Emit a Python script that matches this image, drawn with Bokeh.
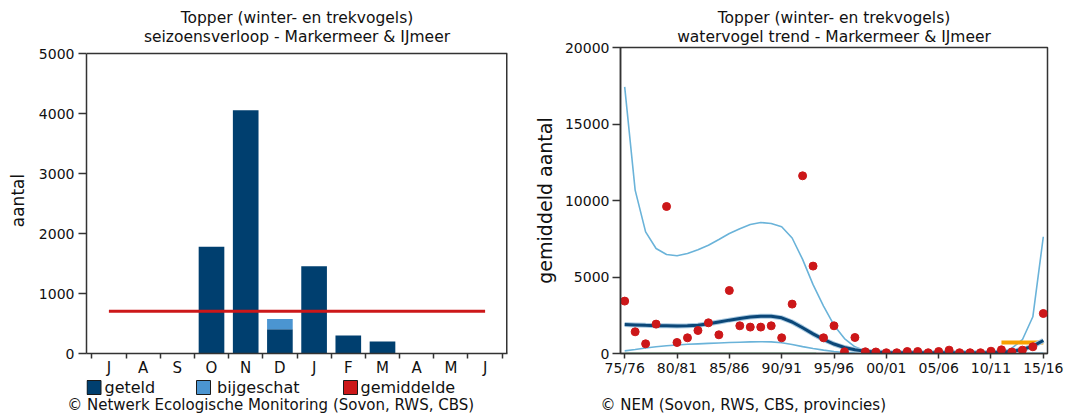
from bokeh.plotting import figure, gridplot
from bokeh.models import FixedTicker, Title, Range1d, ColumnDataSource
from bokeh.core.properties import value
from bokeh.embed import file_html
from bokeh.resources import INLINE

# ---------------- data: seizoensverloop ----------------
months = ["J", "A", "S", "O", "N", "D", "J", "F", "M", "A", "M", "J"]
geteld = [0, 0, 0, 1780, 4055, 405, 1455, 300, 200, 0, 0, 0]
bijgeschat = [0, 0, 0, 0, 0, 172, 0, 0, 0, 0, 0, 0]
gemiddelde = 705
legend_labels = ["geteld", "bijgeschat", "gemiddelde"]

# ---------------- data: watervogel trend ----------------
seasons = list(range(1975, 2016))
season_ticks = [1975, 1980, 1985, 1990, 1995, 2000, 2005, 2010, 2015]
season_labels = ["75/76", "80/81", "85/86", "90/91", "95/96", "00/01", "05/06", "10/11", "15/16"]
counts = [3425, 1418, 634, 1920, 9608, 719, 1026, 1503, 2006, 1222,
          4118, 1810, 1725, 1725, 1810, 1026, 3229, 11614, 5712, 1026,
          1810, 111, 1046, 111, 100, 50, 50, 130, 130, 50,
          130, 220, 50, 50, 50, 150, 240, 100, 220, 440, 2614]
trend = [1900, 1870, 1840, 1820, 1810, 1800, 1810, 1850, 1940, 2060,
         2180, 2290, 2380, 2440, 2440, 2330, 2060, 1680, 1280, 920,
         620, 390, 240, 150, 100, 70, 55, 50, 50, 50,
         50, 50, 50, 50, 55, 65, 90, 140, 260, 480, 850]
upper = [17430, 10680, 7950, 6860, 6470, 6390, 6540, 6780, 7080, 7450,
         7840, 8150, 8430, 8560, 8500, 8280, 7550, 6150, 4500, 3100,
         1850, 980, 440, 160, 70, 40, 40, 40, 40, 40,
         40, 40, 40, 40, 40, 40, 100, 350, 900, 2400, 7630]
lower = [170, 260, 360, 440, 510, 560, 600, 630, 660, 690,
         720, 740, 760, 770, 760, 700, 590, 450, 330, 220,
         130, 70, 30, 15, 10, 10, 10, 10, 10, 10,
         10, 10, 10, 10, 10, 10, 10, 10, 10, 15, 20]
base_years = [1975, 1993.3]
base_values = [0, 0]
index_years = [2011, 2015]
index_values = [720, 720]

FONT = "DejaVu Sans"
TXT = "#111111"
AX = "#333333"
NAVY = "#003f6f"
LBLUE = "#4b95d1"
RED = "#cc1719"
BAND = "#6ab3d9"
TREND = "#0b4778"
HALO = "#a9c9e0"
GREEN = "#2e9a4e"
ORANGE = "#f7a000"
legend_colors = [NAVY, LBLUE, RED]

# layout geometry (pixels)
TOP, FRAME_H, AXIS_B = 46, 306, 23
FOOT_FRAME, FOOT_B = 25, 15
L1, FW1, R1 = 86, 421, 20
L2, FW2, R2 = 93, 427, 20


def style_axes(p):
    p.grid.visible = False
    p.outline_line_color = AX
    p.outline_line_width = 1.5
    for ax in (p.xaxis[0], p.yaxis[0]):
        ax.axis_line_color = AX
        ax.axis_line_width = 1.5
        ax.major_tick_line_color = AX
        ax.major_tick_line_width = 1.5
        ax.major_tick_in = 0
        ax.minor_tick_line_color = None
        ax.major_label_text_font = FONT
        ax.major_label_text_color = TXT
        ax.axis_label_text_font = FONT
        ax.axis_label_text_font_style = "normal"
        ax.axis_label_text_color = TXT
    p.background_fill_color = "white"
    p.border_fill_color = "white"


def add_titles(p, line1, line2):
    p.add_layout(Title(text=line2, align="center", vertical_align="bottom", standoff=2.5,
                       text_font=FONT, text_font_size="15.5px", text_font_style="normal",
                       text_color=TXT), "above")
    p.add_layout(Title(text=line1, align="center", vertical_align="bottom", standoff=-4.5,
                       text_font=FONT, text_font_size="15.5px", text_font_style="normal",
                       text_color=TXT), "above")
    p.add_layout(Title(text=" ", text_font_size="1px", standoff=4.8), "above")


def footer(fw, lb, rb):
    f = figure(frame_width=fw, frame_height=FOOT_FRAME,
               min_border_left=lb, min_border_right=rb, min_border_top=0, min_border_bottom=FOOT_B,
               x_range=Range1d(0, fw), y_range=Range1d(0, FOOT_FRAME),
               x_axis_location=None, y_axis_location=None,
               output_backend="svg", toolbar_location=None, tools="")
    f.grid.visible = False
    f.outline_line_color = None
    f.background_fill_color = "white"
    f.border_fill_color = "white"
    return f


def add_credit(p, text, offset):
    p.add_layout(Title(text=text, align="left", vertical_align="middle", standoff=-19.5, offset=offset,
                       text_font=FONT, text_font_size="15px", text_font_style="normal",
                       text_color=TXT), "below")


# ======================= left: seizoensverloop =======================
n = len(months)
xc = [i + 0.5 for i in range(n)]
x0, x1 = -0.155, n + 0.155
ymax = 5000
p1 = figure(frame_width=FW1, frame_height=FRAME_H,
            min_border_left=L1, min_border_right=R1, min_border_top=TOP, min_border_bottom=AXIS_B,
            x_range=Range1d(x0, x1), y_range=Range1d(0, ymax * FRAME_H / 300.0),
            output_backend="svg", toolbar_location=None, tools="")
style_axes(p1)
p1.outline_line_color = None

src1 = ColumnDataSource(dict(x=xc, geteld=geteld, bijgeschat=bijgeschat))
p1.vbar_stack(["geteld", "bijgeschat"], x="x", width=0.75, source=src1,
              fill_color=[NAVY, LBLUE], line_color=None)
p1.line([xc[0], xc[-1]], [gemiddelde, gemiddelde], line_color=RED, line_width=3)
# box (top and right border) at the 5000 level
p1.line([x0, x1], [ymax, ymax], line_color=AX, line_width=1.5)
p1.line([x1, x1], [0, ymax], line_color=AX, line_width=3)

xa = p1.xaxis[0]
xa.ticker = FixedTicker(ticks=xc, minor_ticks=list(range(n + 1)))
xa.major_label_overrides = {x: m for x, m in zip(xc, months)}
xa.major_tick_line_color = None
xa.major_tick_out = 5
xa.minor_tick_line_color = AX
xa.minor_tick_line_width = 1.5
xa.minor_tick_in = 0
xa.minor_tick_out = 5
xa.major_label_standoff = 0
xa.major_label_text_font_size = "15px"

ya = p1.yaxis[0]
ya.ticker = FixedTicker(ticks=[0, 1000, 2000, 3000, 4000, 5000])
ya.bounds = (0, ymax)
ya.major_tick_out = 8
ya.major_label_standoff = 4
ya.major_label_text_font_size = "14px"
ya.axis_label = "aantal"
ya.axis_label_text_font_size = "17px"
ya.axis_label_standoff = 8

add_titles(p1, "Topper (winter- en trekvogels)", "seizoensverloop - Markermeer & IJmeer")

# footer with legend and credit (left)
f1 = footer(FW1, L1, R1)
sq_x = [7.5, 117, 264]
lab_x = [18, 130.6, 274]
leg_y = [17, 17, 17]
f1.rect(x=sq_x, y=leg_y, width=14, height=14, fill_color=legend_colors,
        line_color="#1a1a1a", line_width=1)
f1.text(x=lab_x, y=leg_y, text=legend_labels, text_font=value(FONT), text_font_size=value("16px"),
        text_baseline="middle", text_align="left", text_color=TXT)
add_credit(f1, "\u00a9 Netwerk Ecologische Monitoring (Sovon, RWS, CBS)", -19.3)

# ======================= right: trend =======================
p2 = figure(frame_width=FW2, frame_height=FRAME_H,
            min_border_left=L2, min_border_right=R2, min_border_top=TOP, min_border_bottom=AXIS_B,
            x_range=Range1d(1974.6, 2015.4), y_range=Range1d(0, 20000),
            output_backend="svg", toolbar_location=None, tools="")
style_axes(p2)

p2.line(base_years, base_values, line_color=GREEN, line_width=1.5)
p2.line(seasons, upper, line_color=BAND, line_width=1.6)
p2.line(seasons, lower, line_color=BAND, line_width=1.6)
p2.line(index_years, index_values, line_color=ORANGE, line_width=4)
p2.line(seasons, trend, line_color=HALO, line_width=5)
p2.line(seasons, trend, line_color=TREND, line_width=3)
p2.scatter(seasons, counts, size=8, fill_color=RED, line_color=RED)

xb = p2.xaxis[0]
xb.ticker = FixedTicker(ticks=season_ticks)
xb.major_label_overrides = {t: s for t, s in zip(season_ticks, season_labels)}
xb.major_tick_out = 5
xb.major_label_standoff = 1
xb.major_label_text_font_size = "14px"

yb = p2.yaxis[0]
yb.ticker = FixedTicker(ticks=[0, 5000, 10000, 15000, 20000])
yb.major_tick_out = 8
yb.major_label_standoff = 3
yb.major_label_text_font_size = "14px"
yb.axis_label = "gemiddeld aantal"
yb.axis_label_text_font_size = "19px"
yb.axis_label_standoff = 6

add_titles(p2, "Topper (winter- en trekvogels)", "watervogel trend - Markermeer & IJmeer")

f2 = footer(FW2, L2, R2)
add_credit(f2, "\u00a9 NEM (Sovon, RWS, CBS, provincies)", -20)

layout = gridplot([[p1, p2], [f1, f2]], toolbar_location=None)
open("out.html", "w").write(file_html(layout, INLINE))
